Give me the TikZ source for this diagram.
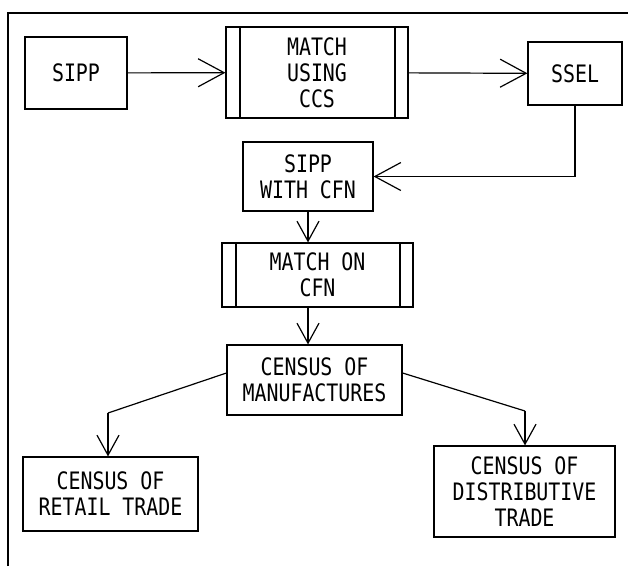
\documentclass[tikz,border=0pt]{standalone}
\usepackage{fontspec}
\usepackage{tikz}
\usetikzlibrary{
  arrows.meta,
  positioning,
  calc
}
\newfontfamily\boxfont[FakeStretch=0.83]{DejaVu Sans Mono}

\begin{document}
\begin{tikzpicture}[
  x=1pt, y=-1pt,
  flowbox/.style={
    rectangle, draw=black, line width=1.2pt, fill=white,
    inner sep=0pt, align=center,
    font=\boxfont\fontsize{24}{26}\selectfont
  },
  matchbox/.style={
    flowbox,
    path picture={
      \draw[line width=1.2pt]
        ([xshift=14pt]path picture bounding box.north west) --
        ([xshift=14pt]path picture bounding box.south west);
      \draw[line width=1.2pt]
        ([xshift=-13pt]path picture bounding box.north east) --
        ([xshift=-13pt]path picture bounding box.south east);
    }
  },
  flow/.style={
    line width=1.2pt,
    -{Straight Barb[length=26pt, width=28pt, line width=1.2pt]}
  },
  drop/.style={
    line width=1.2pt,
    -{Straight Barb[length=20pt, width=22pt, line width=1.2pt]}
  },
  link/.style={line width=1.2pt}
]
\useasboundingbox (0,0) rectangle (628,566);

% frame
\draw[line width=1.5pt] (8,566) -- (8,13) -- (628,13);

\node[flowbox, minimum width=102pt, minimum height=72pt] (sipp) at (76,73) {SIPP};
\node[matchbox, minimum width=182pt, minimum height=91pt] (matchccs) at (317,72.5) {MATCH\\USING\\CCS};
\node[flowbox, minimum width=94pt, minimum height=63pt] (ssel) at (575,73.5) {SSEL};
\node[flowbox, minimum width=130pt, minimum height=69pt] (sippcfn) at (308,176.5) {SIPP\\WITH CFN};
\node[matchbox, minimum width=191pt, minimum height=64pt] (matchcfn) at (317.5,275) {MATCH ON\\CFN};
\node[flowbox, minimum width=175pt, minimum height=70pt] (manuf) at (314.5,380) {CENSUS OF\\MANUFACTURES};
\node[flowbox, minimum width=175pt, minimum height=74pt] (retail) at (110.5,494) {CENSUS OF\\RETAIL TRADE};
\node[flowbox, minimum width=181pt, minimum height=91pt] (distrib) at (524.5,491.5) {CENSUS OF\\DISTRIBUTIVE\\TRADE};

\coordinate (retailbend) at (108,413);
\coordinate (distribbend) at (525,411);

\draw[flow] (sipp) -- (matchccs);
\draw[flow] (matchccs) -- (ssel);
\draw[flow] (ssel.south) |- (sippcfn.east);
\draw[drop] (sippcfn.south) -- (sippcfn.south |- matchcfn.north);
\draw[drop] (sippcfn.south |- matchcfn.south) -- (sippcfn.south |- manuf.north);
% split to the two other censuses
\draw[link] ([yshift=7pt]manuf.west) -- (retailbend);
\draw[drop] (retailbend) -- (retailbend |- retail.north);
\draw[link] ([yshift=7pt]manuf.east) -- (distribbend);
\draw[drop] (distribbend) -- (distribbend |- distrib.north);

\end{tikzpicture}
\end{document}
